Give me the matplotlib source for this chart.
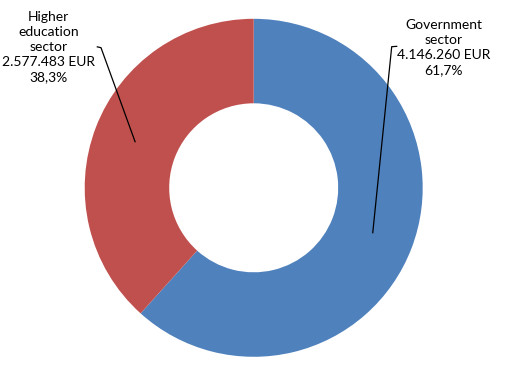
import matplotlib
matplotlib.use("Agg")
import matplotlib.pyplot as plt

categories = ["Government sector", "Higher education sector"]
values = [4146260, 2577483]
value_labels = ["4.146.260 EUR", "2.577.483 EUR"]
pct_labels = ["61,7%", "38,3%"]
colors = ["#4F81BD", "#C0504D"]

W, H = 509, 374
fig = plt.figure(figsize=(W / 100, H / 100), dpi=100)
ax = fig.add_axes([0, 0, 1, 1])

cx, cy = 253.7, H - 187.8
R = 169.0
ax.pie(values, colors=colors, startangle=90, counterclock=False,
       center=(cx, cy), radius=R, wedgeprops=dict(width=R * 0.5, linewidth=0),
       frame=True)
ax.set_xlim(0, W)
ax.set_ylim(0, H)
ax.set_aspect("equal")
ax.axis("off")

font = dict(family=["Lato", "DejaVu Sans"], fontsize=10, color="#000000",
            ha="center", va="center", linespacing=1.3)

# Government label
gov_text = "Government\nsector\n" + value_labels[0] + "\n" + pct_labels[0]
ax.text(443.7, H - 47.2, gov_text, **font)
ax.plot([397.3, 391.7, 372.7], [H - 46.3, H - 46.7, H - 233.3],
        color="black", lw=0.9, solid_capstyle="butt")

# Higher education label
he_text = "Higher\neducation\nsector\n" + value_labels[1] + "\n" + pct_labels[1]
ax.text(48.5, H - 47.2, he_text, **font)
ax.plot([96.7, 101.0, 135.3], [H - 46.7, H - 47.7, H - 142.3],
        color="black", lw=0.9, solid_capstyle="butt")

fig.savefig("out.png", dpi=100)
